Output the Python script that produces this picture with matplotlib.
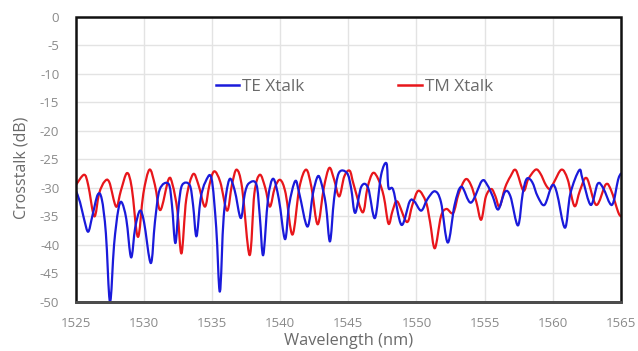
import numpy as np
import matplotlib.pyplot as plt
from matplotlib.path import Path
from matplotlib.patches import PathPatch, Rectangle
from matplotlib.lines import Line2D

plt.rcParams['font.family'] = ['Open Sans', 'DejaVu Sans']
plt.rcParams['axes.unicode_minus'] = False

# TE crosstalk trace (wavelength nm, dB)
te_wl = [1525.0, 1525.3, 1525.6, 1525.9, 1526.2, 1526.6, 1526.9, 1527.2, 1527.5, 1527.8,
         1528.1, 1528.35, 1528.7, 1529.05, 1529.35, 1529.7, 1530.0, 1530.5, 1530.8, 1531.15,
         1531.8, 1532.05, 1532.3, 1532.55, 1532.8, 1533.35, 1533.6, 1533.85, 1534.15, 1534.5,
         1534.95, 1535.3, 1535.57, 1535.85, 1536.25, 1536.65, 1537.1, 1537.4, 1537.7, 1538.25,
         1538.5, 1538.75, 1539.1, 1539.48, 1539.9, 1540.35, 1540.65, 1541.1, 1541.4, 1542.0,
         1542.4, 1542.75, 1543.0, 1543.35, 1543.65, 1543.95, 1544.3, 1544.9, 1545.2, 1545.5,
         1545.95, 1546.45, 1546.95, 1547.4, 1547.8, 1547.95, 1548.3, 1548.9, 1549.5, 1549.85,
         1550.35, 1550.8, 1551.35, 1551.8, 1552.3, 1552.8, 1553.3, 1554.0, 1554.8, 1555.2,
         1555.6, 1556.0, 1556.5, 1556.9, 1557.45, 1557.8, 1558.1, 1558.5, 1558.9, 1559.4,
         1559.95, 1560.3, 1560.9, 1561.3, 1561.95, 1562.2, 1562.8, 1563.3, 1563.7, 1564.35,
         1564.8, 1565.0]
te_db = [-30.5, -32.5, -35.5, -37.7, -35.0, -31.2, -32.0, -38.0, -50.0, -40.0,
         -34.0, -32.5, -35.5, -42.2, -37.0, -34.0, -36.0, -43.2, -36.0, -30.3,
         -29.3, -33.0, -39.7, -33.0, -29.5, -29.5, -33.0, -38.5, -32.0, -29.0,
         -28.3, -37.0, -48.2, -35.0, -28.6, -30.4, -35.3, -31.0, -29.2, -29.4,
         -35.0, -41.8, -32.0, -28.4, -32.0, -39.0, -33.0, -28.8, -31.0, -36.8,
         -31.0, -28.0, -29.0, -33.0, -39.4, -32.0, -27.4, -27.4, -30.0, -34.4,
         -29.8, -30.0, -35.3, -27.8, -25.7, -30.0, -30.4, -36.5, -32.4, -32.4,
         -34.0, -32.0, -30.6, -32.5, -39.6, -33.0, -29.8, -32.6, -28.8, -29.5,
         -31.5, -33.8, -30.7, -31.5, -36.6, -31.0, -28.4, -29.0, -31.5, -33.0,
         -29.6, -30.8, -37.0, -31.0, -26.9, -28.5, -33.0, -29.3, -30.0, -33.0,
         -28.6, -27.5]

# TM crosstalk trace
tm_wl = [1525.0, 1525.6, 1525.9, 1526.35, 1526.7, 1527.1, 1527.45, 1527.95, 1528.3, 1528.75,
         1529.1, 1529.55, 1529.95, 1530.4, 1530.8, 1531.2, 1531.8, 1532.1, 1532.45, 1532.75,
         1533.1, 1533.6, 1534.0, 1534.47, 1534.8, 1535.15, 1535.6, 1536.1, 1536.45, 1536.8,
         1537.2, 1537.75, 1538.1, 1538.5, 1538.9, 1539.24, 1539.6, 1540.0, 1540.4, 1540.9,
         1541.4, 1541.9, 1542.3, 1542.75, 1543.2, 1543.6, 1543.95, 1544.33, 1544.7, 1545.1,
         1545.4, 1546.05, 1546.4, 1546.8, 1547.2, 1547.6, 1547.95, 1548.25, 1548.6, 1549.3,
         1549.7, 1550.15, 1550.7, 1551.0, 1551.35, 1551.8, 1552.2, 1552.7, 1553.1, 1553.6,
         1554.0, 1554.4, 1554.75, 1555.1, 1555.5, 1555.8, 1556.1, 1556.5, 1556.9, 1557.3,
         1557.85, 1558.2, 1558.75, 1559.1, 1559.5, 1559.8, 1560.1, 1560.65, 1561.1, 1561.6,
         1562.0, 1562.5, 1563.2, 1563.9, 1564.3, 1564.8, 1565.0]
tm_db = [-29.5, -27.7, -29.5, -35.0, -31.0, -28.9, -29.0, -33.3, -30.5, -27.4,
         -30.0, -38.6, -31.0, -26.8, -29.5, -33.9, -28.5, -29.5, -34.0, -41.5,
         -32.0, -27.6, -29.5, -33.3, -29.5, -27.1, -29.0, -34.0, -29.5, -26.8,
         -30.0, -41.8, -31.0, -27.7, -30.0, -33.3, -30.0, -28.6, -31.0, -38.2,
         -30.0, -26.8, -30.0, -36.4, -30.0, -26.5, -28.5, -31.5, -28.0, -27.0,
         -29.5, -34.3, -30.0, -27.4, -28.5, -31.5, -36.3, -34.0, -32.4, -36.0,
         -33.0, -30.5, -32.5, -36.0, -40.6, -35.0, -33.7, -34.4, -31.0, -28.5,
         -29.5, -32.5, -35.6, -31.5, -30.2, -31.5, -33.3, -30.0, -28.0, -26.9,
         -30.5, -28.5, -26.8, -27.5, -29.5, -30.2, -29.0, -26.8, -28.5, -33.2,
         -30.5, -28.3, -33.0, -29.4, -30.5, -34.2, -35.0]

x_ticks = np.arange(1525, 1566, 5)
y_ticks = np.arange(-50, 1, 5)

te_color = '#1a1adb'
tm_color = '#e8161b'


def smooth_path(xs, ys):
    # spreadsheet-style smoothed line: cubic Bezier through every point
    p = np.column_stack([xs, ys])
    n = len(p)
    verts = [p[0]]
    codes = [Path.MOVETO]
    for i in range(n - 1):
        p0 = p[max(i - 1, 0)]
        p1 = p[i]
        p2 = p[i + 1]
        p3 = p[min(i + 2, n - 1)]
        c1 = p1 + (p2 - p0) / 6.0
        c2 = p2 - (p3 - p1) / 6.0
        verts += [c1, c2, p2]
        codes += [Path.CURVE4] * 3
    return Path(verts, codes)


fig = plt.figure(figsize=(6.38, 3.51), dpi=100)
ax = fig.add_axes([0.119, 0.140, 0.854, 0.812])

ax.add_patch(PathPatch(smooth_path(tm_wl, tm_db), fill=False, edgecolor=tm_color,
                       lw=1.6, capstyle='round', joinstyle='round', zorder=2))
ax.add_patch(PathPatch(smooth_path(te_wl, te_db), fill=False, edgecolor=te_color,
                       lw=1.6, capstyle='round', joinstyle='round', zorder=3))

ax.set_xlim(1525, 1565)
ax.set_ylim(-50, 0)
ax.set_xticks(x_ticks)
ax.set_yticks(y_ticks)
ax.grid(True, color='#e3e3e3', lw=1.0)
ax.set_axisbelow(True)
ax.tick_params(axis='y', length=0, labelsize=9.5, labelcolor='#8a8a8a', pad=12)
ax.tick_params(axis='x', length=0, labelsize=9.5, labelcolor='#8a8a8a', pad=11)

# dark plot-area frame, bottom edge a little lighter
for spine in ax.spines.values():
    spine.set_visible(False)
fig.patches.append(Rectangle((0.119, 0.140), 0.854, 0.812, transform=fig.transFigure,
                             fill=False, edgecolor='#111111', lw=1.8, zorder=10))
fig.lines.append(Line2D([0.119, 0.973], [0.140, 0.140], transform=fig.transFigure,
                        color='#4d4d4d', lw=2.0, zorder=11))

ax.set_xlabel('Wavelength (nm)', fontsize=11.8, color='#6a6a6a', labelpad=2)
ax.set_ylabel('Crosstalk (dB)', fontsize=11.5, color='#6a6a6a')
ax.yaxis.set_label_coords(-0.085, 0.47)

handles = [Line2D([], [], color=te_color, lw=1.8), Line2D([], [], color=tm_color, lw=1.8)]
ax.legend(handles, ['TE Xtalk', 'TM Xtalk'], loc='center', bbox_to_anchor=(0.511, 0.755),
          ncol=2, frameon=False, fontsize=12.3, labelcolor='#6a6a6a', handlelength=1.4,
          handletextpad=0.15, columnspacing=5.5)

fig.savefig('out.png', dpi=100)
